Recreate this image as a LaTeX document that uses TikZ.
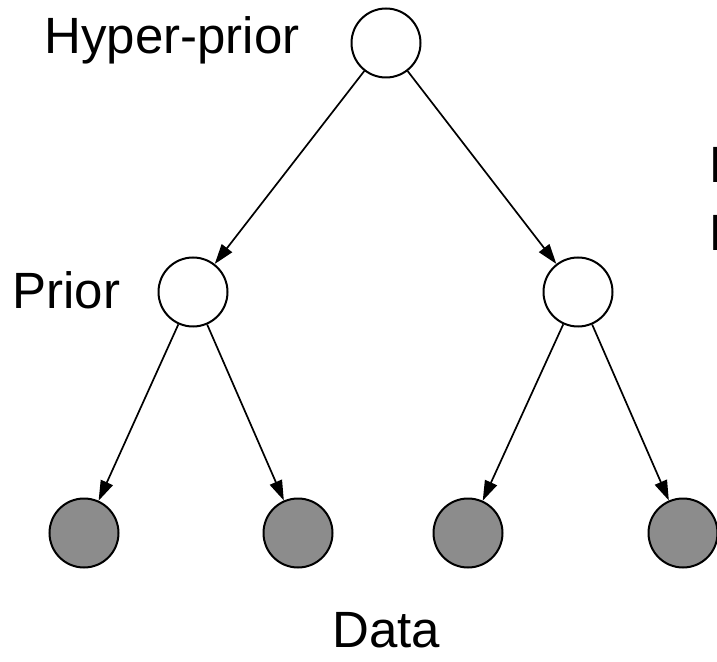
\documentclass[tikz,border=0pt]{standalone}
\usepackage{fontspec}
\setmainfont{Liberation Sans}
\usetikzlibrary{arrows.meta}
\definecolor{datagray}{RGB}{140,140,140}

\begin{document}
\begin{tikzpicture}[x=0.5pt, y=-0.5pt,
  var/.style={draw, circle, line width=1pt, minimum size=34.5pt, inner sep=0pt},
  obs/.style={var, fill=datagray},
  edge/.style={line width=0.85pt, -{Triangle[length=10pt, width=6.5pt]}},
  lbl/.style={font=\fontsize{25.5}{30}\selectfont, inner sep=0pt, anchor=base west}]
  \clip (0, 0) rectangle (717, 662);

  % hyper-prior
  \node [var] (hyper) at (386, 43){};
  \node [lbl] (hyperlbl) at (44, 54){Hyper-prior};

  % priors
  \node [var] (priorA) at (193, 292){};
  \node [var] (priorB) at (578, 292){};
  \node [lbl] (priorlbl) at (12, 309){Prior};

  % data
  \node [obs] (dataA) at (84, 533){};
  \node [obs] (dataB) at (298, 533){};
  \node [obs] (dataC) at (468, 533){};
  \node [obs] (dataD) at (683, 533){};
  \node [lbl] (datalbl) at (332, 647){Data};

  % text cut at the right edge, as in the picture
  \node [lbl] (rightH) at (709, 183){H};
  \node [lbl] (rightP) at (709, 251){P};

  % edges
  \draw [edge] (hyper)--(priorA);
  \draw [edge] (hyper)--(priorB);
  \draw [edge] (priorA)--(dataA);
  \draw [edge] (priorA)--(dataB);
  \draw [edge] (priorB)--(dataC);
  \draw [edge] (priorB)--(dataD);
\end{tikzpicture}
\end{document}
